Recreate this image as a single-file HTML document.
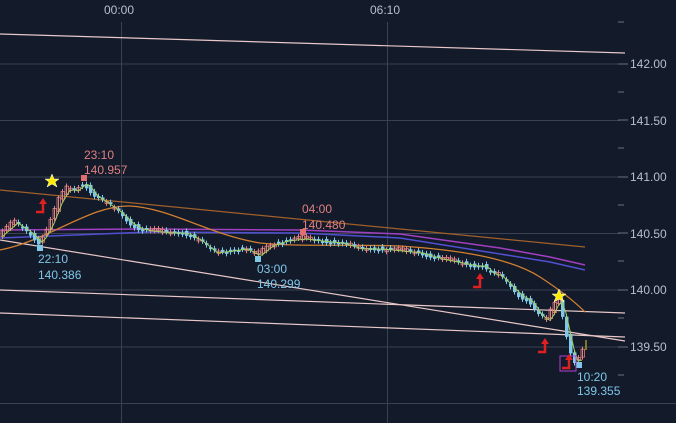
<!DOCTYPE html>
<html><head><meta charset="utf-8"><style>
html,body{margin:0;padding:0;background:#131a2a;overflow:hidden}
svg{display:block;font-family:"Liberation Sans",sans-serif}
</style></head><body>
<svg id="s" width="676" height="423" xmlns="http://www.w3.org/2000/svg">
<rect width="676" height="423" fill="#131a2a"/>
<g stroke="#3a4150" stroke-width="1">
<line x1="0" y1="64" x2="620" y2="64"/><line x1="0" y1="120.5" x2="620" y2="120.5"/><line x1="0" y1="177" x2="620" y2="177"/><line x1="0" y1="233.5" x2="620" y2="233.5"/><line x1="0" y1="290" x2="620" y2="290"/><line x1="0" y1="347" x2="620" y2="347"/><line x1="0" y1="403.5" x2="676" y2="403.5"/>
<line x1="121.5" y1="22" x2="121.5" y2="423"/><line x1="387.5" y1="22" x2="387.5" y2="423"/>
</g>
<g stroke="#6a7080"><line x1="618" y1="64" x2="628" y2="64"/><line x1="618" y1="120" x2="628" y2="120"/><line x1="618" y1="177" x2="628" y2="177"/><line x1="618" y1="233" x2="628" y2="233"/><line x1="618" y1="290" x2="628" y2="290"/><line x1="618" y1="347" x2="628" y2="347"/>
<line x1="618" y1="22" x2="624" y2="22"/><line x1="618" y1="92" x2="624" y2="92"/><line x1="618" y1="148" x2="624" y2="148"/><line x1="618" y1="205" x2="624" y2="205"/><line x1="618" y1="261" x2="624" y2="261"/><line x1="618" y1="318" x2="624" y2="318"/><line x1="618" y1="375" x2="624" y2="375"/></g>
<g fill="#b8bfcc" font-size="12">
<text x="630" y="68">142.00</text><text x="630" y="125">141.50</text><text x="630" y="181">141.00</text><text x="630" y="238">140.50</text><text x="630" y="294">140.00</text><text x="630" y="351">139.50</text>
<text x="104" y="14">00:00</text><text x="370" y="14">06:10</text></g>
<g stroke="#e8c8c8" stroke-width="1.2" fill="none">
<line x1="0" y1="34" x2="625" y2="53"/><line x1="0" y1="290" x2="625" y2="313"/><line x1="0" y1="313" x2="625" y2="337"/><line x1="0" y1="240" x2="625" y2="341"/></g>
<polyline fill="none" stroke="#a0602a" stroke-width="1.3" points="0,190 585,247"/>
<polyline fill="none" stroke="#a040c0" stroke-width="1.5" points="0,230 150,229 300,230 400,234 500,248 550,257 585,265"/>
<polyline fill="none" stroke="#5050d0" stroke-width="1.5" points="0,238 150,232 300,233 400,238 500,254 550,262 585,270"/>
<path fill="none" stroke="#d08030" stroke-width="1.3" d="M0,250 C50,240 90,205 130,206 C170,208 210,235 260,243 C300,247 340,244 400,246 C460,250 510,258 540,277 C560,290 575,302 585,312"/>
<g id="c"></g>
<polyline id="g" fill="none" stroke="#a0d060" stroke-width="1"/>
<g font-size="12">
<rect x="81" y="175" width="6" height="6" fill="#e07070"/><text x="84" y="159" fill="#e08080">23:10</text><text x="84" y="174" fill="#e08080">140.957</text>
<rect x="37" y="245" width="6" height="6" fill="#7fc8e8"/><text x="38" y="263" fill="#7fc8e8">22:10</text><text x="38" y="279" fill="#7fc8e8">140.386</text>
<rect x="255" y="256" width="6" height="6" fill="#7fc8e8"/><text x="257" y="273" fill="#7fc8e8">03:00</text><text x="257" y="288" fill="#7fc8e8">140.299</text>
<rect x="300" y="229" width="6" height="6" fill="#e07070"/><text x="302" y="213" fill="#e08080">04:00</text><text x="302" y="229" fill="#e08080">140.480</text>
<rect x="576" y="362" width="6" height="6" fill="#7fc8e8"/><text x="577" y="381" fill="#7fc8e8">10:20</text><text x="577" y="395" fill="#7fc8e8">139.355</text></g>
<rect x="560" y="356" width="16" height="15" fill="none" stroke="#b040d0" stroke-width="1"/>
<g fill="#ffee00" stroke="#ffffff" stroke-width="0.5">
<polygon points="52,174 54,179 59,179 55,182 57,187 52,184 47,187 49,182 45,179 50,179"/>
<polygon points="559,289 561,294 566,294 562,297 564,302 559,299 554,302 556,297 552,294 557,294"/></g>
<g fill="none" stroke="#e02020" stroke-width="2.5">
<path d="M36,212 h7 v-9"/><path d="M473,287 h7 v-9"/><path d="M538,352 h7 v-9"/><path d="M562,368 h7 v-9"/></g>
<g fill="#e02020"><polygon points="39,204 43,198 47,204"/><polygon points="476,279 480,273 484,279"/><polygon points="541,344 545,338 549,344"/><polygon points="565,360 569,354 573,360"/></g>
<line x1="586" y1="340" x2="586" y2="350" stroke="#e8d020"/>
</svg>
<script>
var P=[[0,235],[15,222],[30,232],[40,242],[50,225],[60,200],[68,188],[75,190],[85,182],[95,195],[110,205],[120,212],[130,222],[140,228],[150,230],[170,232],[185,232],[200,240],[215,252],[230,250],[245,248],[258,255],[270,245],[285,240],[303,238],[320,240],[340,242],[360,248],[380,248],[400,250],[420,252],[440,258],[460,262],[475,265],[485,265],[490,272],[500,275],[510,285],[520,295],[530,300],[540,315],[548,320],[555,305],[560,300],[565,320],[570,345],[575,360],[578,362],[582,350],[585,348]];
function f(x){for(var i=1;i<P.length;i++)if(x<=P[i][0]){var a=P[i-1],b=P[i];return a[1]+(b[1]-a[1])*(x-a[0])/(b[0]-a[0]);}return P[P.length-1][1];}
var g=document.getElementById('c'),s='',pts=[];
for(var x=2;x<=584;x+=4){var o=f(x-2)+Math.sin(x*0.9)*1.5,c=f(x+2)+(Math.sin(x*1.7)*2.5);var up=c<o;var t=Math.min(o,c),h=Math.max(Math.abs(c-o),2);var col=up?'#e08080':'#7fc8e8';
s+='<line x1="'+(x+0.5)+'" y1="'+(t-2.5)+'" x2="'+(x+0.5)+'" y2="'+(t+h+2.5)+'" stroke="'+col+'"/>';
s+='<rect x="'+(x-1)+'" y="'+t+'" width="3.5" height="'+h+'" fill="'+(up?'none':col)+'" stroke="'+col+'" stroke-width="'+(up?0.8:0)+'"/>';pts.push(x+','+(f(x-3)+1));}
g.innerHTML=s;document.getElementById('g').setAttribute('points',pts.join(' '));
</script>
</body></html>
